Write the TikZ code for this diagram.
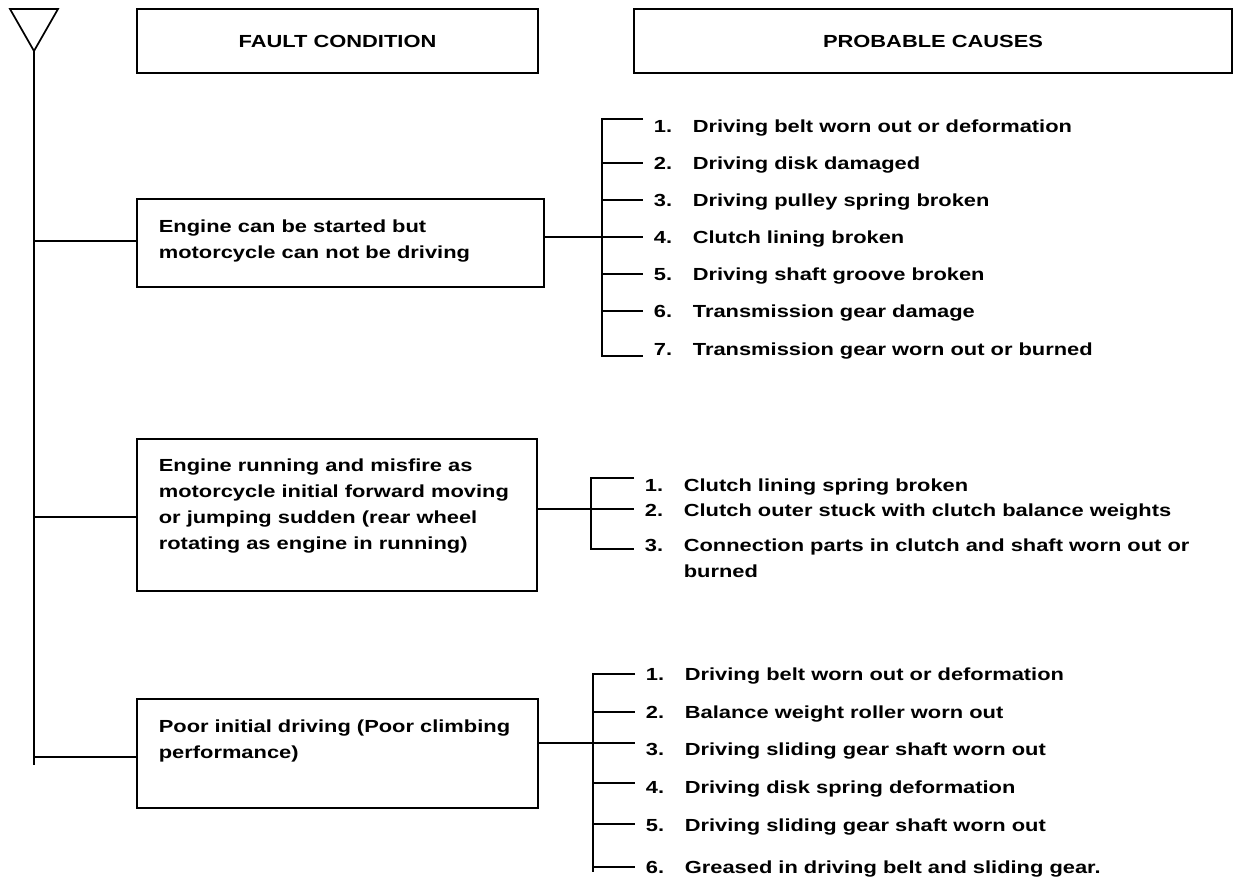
\documentclass[tikz,border=0pt]{standalone}
\usepackage{fontspec}
\setmainfont{Liberation Sans}[FakeStretch=1.25]
\newcommand\itemnum[1]{\makebox[39pt][l]{#1}}
\begin{document}
\begin{tikzpicture}[x=1pt,y=-1pt,line width=1.7pt,
  every node/.style={font=\bfseries\fontsize{17.5}{26}\selectfont},
  box/.style={draw,inner sep=0pt},
  head/.style={draw,inner sep=0pt,minimum height=64pt},
  txt/.style={anchor=west,align=left,inner sep=0pt},
  cause/.style={anchor=west,align=left,inner xsep=10pt,inner ysep=0pt}]
\useasboundingbox (0,0) rectangle (1242,882);
% triangle and main line
\coordinate (tl) at (10,9);
\coordinate (tr) at (58,9);
\coordinate (apex) at (34,51);
\coordinate (mainbot) at (34,765);
\draw[line join=miter] (tl) -- (tr) -- (apex) -- cycle;
\draw (apex) -- (mainbot);
% headers
\node[head,minimum width=401pt] (h1) at (337.5,41) {FAULT CONDITION};
\node[head,minimum width=598pt] (h2) at (933,41) {PROBABLE CAUSES};
% fault boxes
\node[box,minimum width=407pt,minimum height=88pt] (b1) at (340.5,243) {};
\node[box,minimum width=400pt,minimum height=152pt] (b2) at (337,515) {};
\node[box,minimum width=401pt,minimum height=109pt] (b3) at (337.5,753.5) {};
\node[txt] (t1) at (158,241) {Engine can be started but\\motorcycle can not be driving};
\node[txt] (t2) at (158,506) {Engine running and misfire as\\motorcycle initial forward moving\\or jumping sudden (rear wheel\\rotating as engine in running)};
\node[txt] (t3) at (158,741) {Poor initial driving (Poor climbing\\performance)};
% left connectors
\draw ([yshift=2pt]b1.west -| apex) -- ([yshift=2pt]b1.west);
\draw ([yshift=-2pt]b2.west -| apex) -- ([yshift=-2pt]b2.west);
\draw ([yshift=-3.5pt]b3.west -| apex) -- ([yshift=-3.5pt]b3.west);
% group 1 causes
\node[cause] (c11) at (643,128) {\itemnum{1.}Driving belt worn out or deformation};
\node[cause] (c12) at (643,165) {\itemnum{2.}Driving disk damaged};
\node[cause] (c13) at (643,202) {\itemnum{3.}Driving pulley spring broken};
\node[cause] (c14) at (643,239) {\itemnum{4.}Clutch lining broken};
\node[cause] (c15) at (643,276) {\itemnum{5.}Driving shaft groove broken};
\node[cause] (c16) at (643,313) {\itemnum{6.}Transmission gear damage};
\node[cause] (c17) at (643,351) {\itemnum{7.}Transmission gear worn out or burned};
\coordinate (g1top) at (602,119);
\coordinate (g1bot) at (602,356);
\coordinate (t12) at (602,163);
\coordinate (t13) at (602,200);
\coordinate (t14) at (602,237);
\coordinate (t15) at (602,274);
\coordinate (t16) at (602,311);
\draw (c11.west |- g1top) -- (g1top) -- (g1bot) -- (c17.west |- g1bot);
\draw (t12) -- (c12.west |- t12);
\draw (t13) -- (c13.west |- t13);
\draw (t15) -- (c15.west |- t15);
\draw (t16) -- (c16.west |- t16);
\draw (b1.east |- t14) -- (c14.west |- t14);
% group 2 causes
\node[cause] (c21) at (634,487) {\itemnum{1.}Clutch lining spring broken};
\node[cause] (c22) at (634,512) {\itemnum{2.}Clutch outer stuck with clutch balance weights};
\node[cause] (c23) at (634,558) {\itemnum{3.}Connection parts in clutch and shaft worn out or\\\hspace*{39pt}burned};
\coordinate (g2top) at (591,478);
\coordinate (g2mid) at (591,509);
\coordinate (g2bot) at (591,549);
\draw (c21.west |- g2top) -- (g2top) -- (g2bot) -- (c23.west |- g2bot);
\draw (b2.east |- g2mid) -- (c22.west |- g2mid);
% group 3 causes
\node[cause] (c31) at (635,676) {\itemnum{1.}Driving belt worn out or deformation};
\node[cause] (c32) at (635,714) {\itemnum{2.}Balance weight roller worn out};
\node[cause] (c33) at (635,751) {\itemnum{3.}Driving sliding gear shaft worn out};
\node[cause] (c34) at (635,789) {\itemnum{4.}Driving disk spring deformation};
\node[cause] (c35) at (635,827) {\itemnum{5.}Driving sliding gear shaft worn out};
\node[cause] (c36) at (635,869) {\itemnum{6.}Greased in driving belt and sliding gear.};
\coordinate (g3top) at (593,674);
\coordinate (g3bot) at (593,872);
\coordinate (t32) at (593,712);
\coordinate (t33) at (593,743);
\coordinate (t34) at (593,783);
\coordinate (t35) at (593,824);
\coordinate (t36) at (593,867);
\draw (c31.west |- g3top) -- (g3top) -- (g3bot);
\draw (t32) -- (c32.west |- t32);
\draw (t34) -- (c34.west |- t34);
\draw (t35) -- (c35.west |- t35);
\draw (t36) -- (c36.west |- t36);
\draw (b3.east |- t33) -- (c33.west |- t33);
\end{tikzpicture}
\end{document}
